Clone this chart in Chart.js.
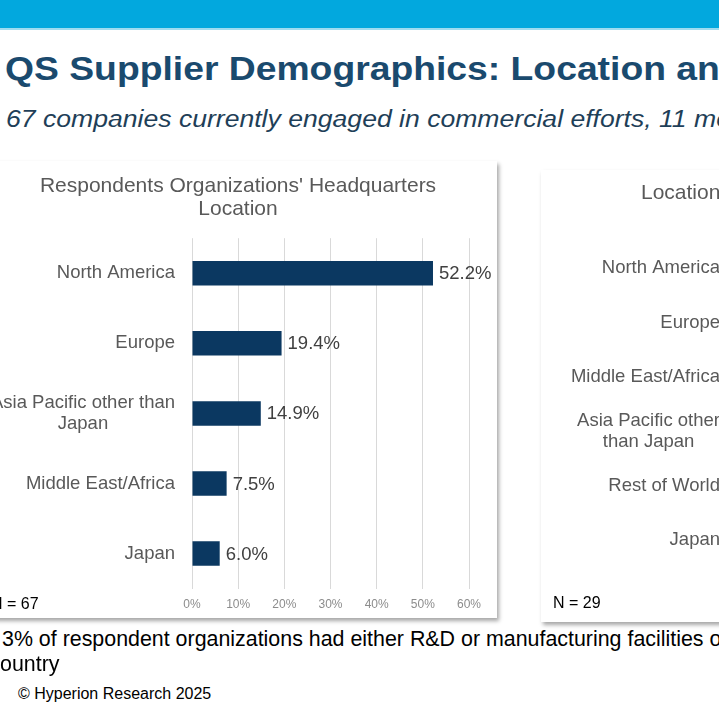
<!DOCTYPE html>
<html>
<head>
<meta charset="utf-8">
<script src="https://cdn.jsdelivr.net/npm/chart.js@4.4.0/dist/chart.umd.min.js"></script>
<style>
  html, body { margin: 0; padding: 0; background: #fff; }
  body { width: 719px; height: 720px; overflow: hidden; position: relative;
         font-family: "Liberation Sans", Arial, sans-serif; }
  .band { position: absolute; left: 0; top: 0; width: 719px; height: 28px;
          background: #02a8de; border-bottom: 2px solid #9edcf0; }
  .title { position: absolute; left: 5px; top: 50px; white-space: nowrap;
           font-size: 33px; font-weight: bold; color: #1a4a6e;
           transform: scaleX(1.13); transform-origin: left top; }
  .subtitle { position: absolute; left: 6px; top: 105px; white-space: nowrap;
              font-size: 24.5px; font-style: italic; color: #1f3f58;
              transform: scaleX(1.085); transform-origin: left top; }
  .card { position: absolute; background: #fff; overflow: hidden;
          box-shadow: 2px 3px 4px rgba(0,0,0,0.35); }
  .card canvas { position: absolute; top: 0; }
  .nlab { position: absolute; font-size: 16px; color: #000; white-space: nowrap; }
  .note { position: absolute; left: 2px; white-space: nowrap; font-size: 21.4px; color: #000; }
  .copy { position: absolute; left: 18px; top: 685px; font-size: 16px; color: #000; white-space: nowrap; }
</style>
</head>
<body>
<div class="band"></div>
<div class="title">QS Supplier Demographics: Location and</div>
<div class="subtitle">67 companies currently engaged in commercial efforts, 11 more</div>

<div class="card" id="cardL" style="left:-40px; top:161px; width:537px; height:457px;">
  <canvas id="hqChart" width="497" height="457" style="left:40px; width:497px; height:457px;"></canvas>
  <div class="nlab" style="left:31px; top:434px;">N = 67</div>
</div>

<div class="card" id="cardR" style="left:541px; top:170px; width:520px; height:452px;">
  <canvas id="locChart" width="520" height="452" style="left:0px; width:520px; height:452px;"></canvas>
  <div class="nlab" style="left:12px; top:424px;">N = 29</div>
</div>

<div class="note" style="top:627px;">3% of respondent organizations had either R&amp;D or manufacturing facilities o</div>
<div class="note" style="top:652px; left:0px;">ountry</div>
<div class="copy">© Hyperion Research 2025</div>

<script>
// Data block
const hqLabels = ['North America', 'Europe', ['Asia Pacific other than', 'Japan'], 'Middle East/Africa', 'Japan'];
const hqValues = [52.2, 19.4, 14.9, 7.5, 6.0];
const locLabels = ['North America', 'Europe', 'Middle East/Africa', ['Asia Pacific other', 'than Japan'], 'Rest of World', 'Japan'];
const pctTicks = [0, 10, 20, 30, 40, 50, 60];

const barColor = '#0b3861';
const labelFont = { family: '"Liberation Sans", Arial, sans-serif', size: 18.5 };

// Category labels: block right-aligned, lines centred on each other
const catLabels = {
    id: 'catLabels',
    afterDraw(chart, args, opts) {
        const ctx = chart.ctx;
        const yScale = chart.scales.y;
        const right = chart.chartArea.left - opts.gap;
        ctx.save();
        ctx.font = labelFont.size + 'px ' + labelFont.family;
        ctx.fillStyle = '#595959';
        ctx.textAlign = 'center';
        ctx.textBaseline = 'middle';
        chart.data.labels.forEach(function(lab, i) {
            const lines = Array.isArray(lab) ? lab : [lab];
            const w = Math.max.apply(null, lines.map(l => ctx.measureText(l).width));
            const cy = yScale.getPixelForValue(i);
            const lh = 21.5;
            lines.forEach(function(l, j) {
                ctx.fillText(l, right - w / 2, cy + (j - (lines.length - 1) / 2) * lh);
            });
        });
        ctx.restore();
    }
};

// Value labels at the end of each bar
const valueLabels = {
    id: 'valueLabels',
    afterDatasetsDraw(chart) {
        const ctx = chart.ctx;
        const meta = chart.getDatasetMeta(0);
        if (!meta || !meta.data) return;
        ctx.save();
        ctx.font = labelFont.size + 'px ' + labelFont.family;
        ctx.fillStyle = '#404040';
        ctx.textAlign = 'left';
        ctx.textBaseline = 'middle';
        meta.data.forEach(function(bar, i) {
            ctx.fillText(chart.data.datasets[0].data[i].toFixed(1) + '%', bar.x + 6, bar.y + 1);
        });
        ctx.restore();
    }
};

function makeOptions(o) {
    return {
        indexAxis: 'y',
        responsive: false,
        maintainAspectRatio: false,
        animation: false,
        devicePixelRatio: 1,
        layout: { padding: o.padding },
        plugins: {
            legend: { display: false },
            tooltip: { enabled: false },
            title: {
                display: true,
                text: o.title,
                align: o.titleAlign,
                color: '#595959',
                font: { family: labelFont.family, size: 21, weight: 'normal', lineHeight: 1.1 },
                padding: o.titlePad
            },
            catLabels: { gap: 17 }
        },
        scales: {
            x: {
                min: 0,
                max: 60,
                afterBuildTicks(scale) {
                    scale.ticks = pctTicks.map(v => ({ value: v }));
                },
                border: { display: false },
                grid: { color: '#d9d9d9', drawTicks: false, lineWidth: 1 },
                ticks: {
                    padding: 9,
                    color: '#8c8c8c',
                    font: { family: labelFont.family, size: 12 },
                    callback: function(value) { return value + '%'; }
                }
            },
            y: {
                afterFit(scale) { scale.width = o.yWidth; },
                border: { display: false },
                grid: { display: false, drawTicks: false },
                ticks: { display: false }
            }
        }
    };
}

const hqChart = new Chart(document.getElementById('hqChart'), {
    type: 'bar',
    data: {
        labels: hqLabels,
        datasets: [{
            data: hqValues,
            backgroundColor: barColor,
            borderWidth: 0,
            categoryPercentage: 1,
            barPercentage: 0.35
        }]
    },
    options: makeOptions({
        title: ["Respondents Organizations' Headquarters", 'Location'],
        titleAlign: 'center',
        titlePad: { top: 14, bottom: 17 },
        padding: { left: 7, right: 28, top: 0, bottom: -3 },
        yWidth: 185
    }),
    plugins: [catLabels, valueLabels]
});

const locChart = new Chart(document.getElementById('locChart'), {
    type: 'bar',
    data: {
        labels: locLabels,
        datasets: [{
            data: [],
            backgroundColor: barColor,
            borderWidth: 0,
            categoryPercentage: 1,
            barPercentage: 0.35
        }]
    },
    options: makeOptions({
        title: 'Location',
        titleAlign: 'start',
        titlePad: { top: 12, bottom: 36 },
        padding: { left: 100, right: 20, top: 0, bottom: 22 },
        yWidth: 96
    }),
    plugins: [catLabels]
});
</script>
</body>
</html>
